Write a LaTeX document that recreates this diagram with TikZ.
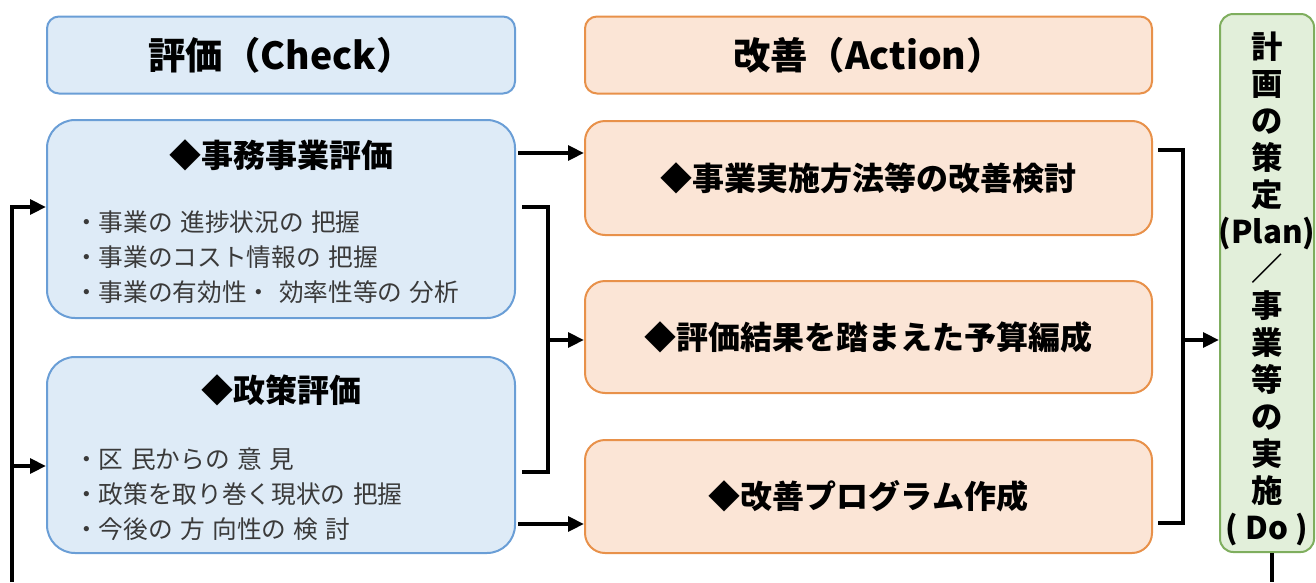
\documentclass[tikz,border=0pt]{standalone}
\usepackage{fontspec}
\newfontfamily\jp{Noto Sans CJK JP}
\usetikzlibrary{arrows.meta}
\definecolor{fillB}{HTML}{DEEBF7}
\definecolor{bordB}{HTML}{6A9ED6}
\definecolor{fillO}{HTML}{FBE5D6}
\definecolor{bordO}{HTML}{E8914A}
\definecolor{fillG}{HTML}{E2EFDA}
\definecolor{bordG}{HTML}{7FAE5E}
\definecolor{bodytxt}{HTML}{3A3A3A}
\newcommand{\gp}{\hspace{0.3em}}
\tikzset{
  blubox/.style={draw=bordB, fill=fillB, line width=1.5pt, inner sep=0pt, minimum width=351pt},
  orabox/.style={draw=bordO, fill=fillO, line width=1.5pt, inner sep=0pt, minimum width=425.25pt},
  hdrfont/.style={font=\jp\bfseries\fontsize{28}{32}\selectfont},
  titlefont/.style={font=\jp\bfseries\fontsize{24}{28}\selectfont},
  bodyfont/.style={font=\jp\fontsize{18.5}{26.25}\selectfont, text=bodytxt, align=left, inner sep=0pt},
  conn/.style={line width=3pt},
  arr/.style={line width=3pt, -{Triangle[length=12pt,width=11pt]}}
}
\begin{document}
\begin{tikzpicture}[x=0.75pt,y=-0.75pt]
\useasboundingbox (0,0) rectangle (1316,582);
% headers
\node[blubox, rounded corners=9pt, minimum height=57.75pt, hdrfont] (hc) at (281,55) {評価（Check）};
\node[orabox, rounded corners=9pt, minimum height=57.75pt, hdrfont] (ha) at (868.5,55) {改善（Action）};
\path (hc.center) ++(0,-1.5) coordinate (dummy);
% check boxes
\node[blubox, rounded corners=21pt, minimum height=148.5pt] (b1) at (281,219) {};
\node[titlefont] (b1t) at (281,155) {◆事務事業評価};
\node[bodyfont, anchor=west] (b1b) at (74,257) {・事業の\gp 進捗状況の\gp 把握\\・事業のコスト情報の\gp 把握\\・事業の有効性・\gp 効率性等の\gp 分析};
\node[blubox, rounded corners=21pt, minimum height=147pt] (b2) at (281,455) {};
\node[titlefont] (b2t) at (281,390) {◆政策評価};
\node[bodyfont, anchor=west] (b2b) at (74,494) {・区\gp 民からの\gp 意\gp 見\\・政策を取り巻く現状の\gp 把握\\・今後の\gp 方\gp 向性の\gp 検\gp 討};
% action boxes
\node[orabox, rounded corners=15pt, minimum height=85.5pt, titlefont] (a1) at (868.5,178) {◆事業実施方法等の改善検討};
\node[orabox, rounded corners=15pt, minimum height=84pt, titlefont] (a2) at (868.5,337) {◆評価結果を踏まえた予算編成};
\node[orabox, rounded corners=15pt, minimum height=84.75pt, titlefont] (a3) at (868.5,496.5) {◆改善プログラム作成};
% plan box
\node[draw=bordG, fill=fillG, line width=1.5pt, rounded corners=10pt, minimum width=70.5pt, minimum height=403.5pt, inner sep=0pt] (pl) at (1267,283) {};
\node[font=\jp\bfseries\fontsize{23.5}{27.75}\selectfont, align=center, inner sep=0pt] (plt) at (1267,288.5)
 {計\\画\\の\\策\\定\\(Plan)\\／\\事\\業\\等\\の\\実\\施\\( Do )};
% connectors
\coordinate (lb) at (12,582);
\coordinate (rb) at (1272,582);
\draw[arr] (lb) |- (b1.west |- 0,207);
\draw[arr] (lb |- 0,466) -- (b2.west |- 0,466);
\draw[arr] (518,153) -- (a1.west |- 0,153);
\draw[arr] (518,524) -- (a3.west |- 0,524);
\coordinate (k1t) at (522,207);
\coordinate (k1b) at (522,472);
\draw[conn] (k1t) -- (548,207) -- (548,472) -- (k1b);
\draw[arr] (548,340) -- (a2.west |- 0,340);
\coordinate (k2t) at (1158,150);
\coordinate (k2b) at (1158,523);
\draw[conn] (k2t) -- (1183,150) -- (1183,523) -- (k2b);
\draw[arr] (1183,340) -- (pl.west |- 0,340);
\draw[conn] (pl.south -| rb) -- (rb);
\end{tikzpicture}
\end{document}
